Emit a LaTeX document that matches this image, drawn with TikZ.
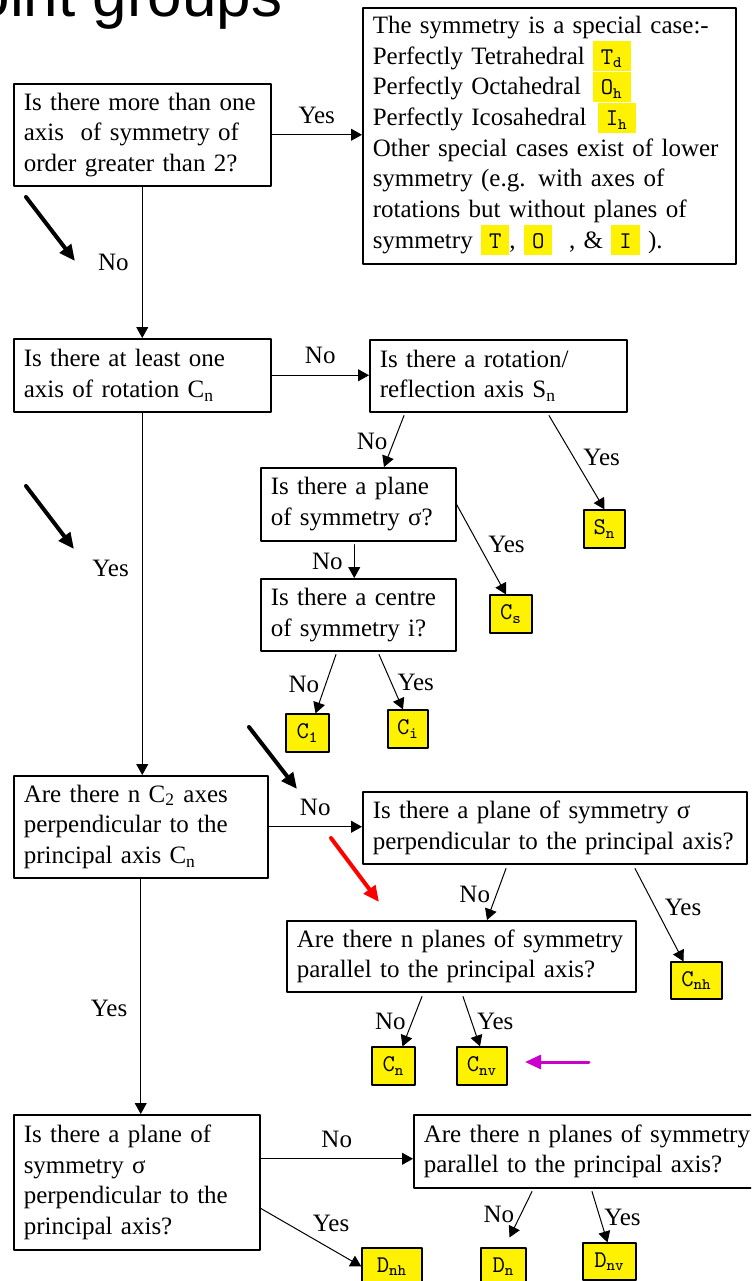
\documentclass[tikz,border=0pt]{standalone}
\usepackage{fontspec}
\setmainfont{Liberation Serif}
\setsansfont{Liberation Sans}
\usetikzlibrary{arrows.meta}

\begin{document}
\begin{tikzpicture}
% Point group flow chart, one unit is one pixel of the slide
\def\pxsz{0.5pt}
\providecommand{\pgTextFont}{\fontsize{12.5}{15.35}\selectfont}
\providecommand{\pgGroupFont}{\ttfamily\fontsize{12}{12}\selectfont}
\providecommand{\pgBoxLineWidth}{0.75pt}
\providecommand{\pgArrowLineWidth}{0.5pt}
\providecommand{\pgHintLineWidth}{2pt}
\providecommand{\pgHlx}{110pt}
\providecommand{\grpmark}[1]{{\setlength{\fboxsep}{0pt}\colorbox{yellow}{\rule[-3.5pt]{0pt}{15pt}\hspace{4pt}\pgGroupFont #1\hspace{4pt}}}}
\begin{scope}[x=\pxsz, y=-\pxsz, line cap=round, line join=round,
  qbox/.style={draw, line width=\pgBoxLineWidth, anchor=north west, align=left,
    inner xsep=5pt, inner ysep=0pt, font=\pgTextFont},
  grp/.style={draw, fill=yellow, line width=0.6pt, font=\pgGroupFont,
    minimum height=19pt, inner sep=0pt},
  conn/.style={line width=\pgArrowLineWidth, -{Triangle[length=5.5pt,width=6pt]}},
  hint/.style={line width=\pgHintLineWidth, -{Triangle[length=8pt,width=7pt]}},
  answer/.style={font=\pgTextFont, inner sep=1.5pt}]
  % Page frame
  \useasboundingbox (0,0) rectangle (751,1281);
  \clip (0,0) rectangle (751,1281);
  % Title, cut by the top edge
  \node[anchor=base west, inner sep=0pt, font=\sffamily\fontsize{31}{31}\selectfont] (title) at (-66,16) {Point groups};
  % Questions
  \node[qbox, text width=118.5pt, minimum height=51pt] (axes) at (13,83)
    {Is there more than one\\ axis\ \ of symmetry of\\ order greater than 2?};
  \node[qbox, text width=176.5pt, minimum height=128pt] (special) at (362,7)
    {The symmetry is a special case:-\\
     \makebox[\pgHlx][l]{Perfectly Tetrahedral}\grpmark{T\textsubscript{d}}\\
     \makebox[\pgHlx][l]{Perfectly Octahedral}\grpmark{O\textsubscript{h}}\\
     \makebox[\pgHlx][l]{Perfectly Icosahedral}\hspace{2.5pt}\grpmark{I\textsubscript{h}}\\
     Other special cases exist of lower\\
     symmetry (e.g. with axes of\\
     rotations but without planes of\\
     symmetry \grpmark{T}, \grpmark{O}\ \ , \& \grpmark{I}\ ).};
  \node[qbox, text width=118.5pt, minimum height=36.5pt] (rot) at (13,338)
    {Is there at least one\\ axis of rotation C\textsubscript{n}};
  \node[qbox, text width=118.5pt, minimum height=36pt] (refl) at (369,339)
    {Is there a rotation/\\ reflection axis S\textsubscript{n}};
  \node[qbox, text width=87.5pt, minimum height=36.5pt] (plane) at (260,467)
    {Is there a plane\\ of symmetry σ?};
  \node[qbox, text width=87.5pt, minimum height=36pt] (centre) at (260,578)
    {Is there a centre\\ of symmetry i?};
  \node[qbox, text width=117pt, minimum height=51pt] (perp) at (13,775)
    {Are there n C\textsubscript{2} axes\\ perpendicular to the\\ principal axis C\textsubscript{n}};
  \node[qbox, text width=182pt, minimum height=36pt] (hplane) at (362,791)
    {Is there a plane of symmetry σ\\ perpendicular to the principal axis?};
  \node[qbox, text width=164.5pt, minimum height=35.5pt] (planes) at (286,920)
    {Are there n planes of symmetry\\ parallel to the principal axis?};
  \node[qbox, text width=113pt, minimum height=67.5pt] (dplane) at (13,1114)
    {Is there a plane of\\ symmetry σ\\ perpendicular to the\\ principal axis?};
  \node[qbox, text width=163.5pt, minimum height=36.5pt] (dplanes) at (413,1114)
    {Are there n planes of symmetry\\ parallel to the principal axis?};
  % Point groups
  \node[grp, minimum width=20.5pt] (Sn) at (604.5,529) {S\textsubscript{n}};
  \node[grp, minimum width=21pt] (Cs) at (511,614) {C\textsubscript{s}};
  \node[grp, minimum width=21.5pt] (C1) at (307.5,733) {C\textsubscript{1}};
  \node[grp, minimum width=20pt] (Ci) at (408,729) {C\textsubscript{i}};
  \node[grp, minimum width=25.5pt, minimum height=18.5pt] (Cnh) at (696.5,980.5) {C\textsubscript{nh}};
  \node[grp, minimum width=21.5pt] (Cn) at (393.5,1066) {C\textsubscript{n}};
  \node[grp, minimum width=25pt] (Cnv) at (482,1066) {C\textsubscript{nv}};
  \node[grp, minimum width=30pt, minimum height=18.5pt] (Dnh) at (392,1266.5) {D\textsubscript{nh}};
  \node[grp, minimum width=22.5pt, minimum height=18.5pt] (Dn) at (503.5,1266.5) {D\textsubscript{n}};
  \node[grp, minimum width=26.5pt, minimum height=18.5pt] (Dnv) at (609.5,1261.5) {D\textsubscript{nv}};
  % Answers
  \draw[conn] (axes.east) -- (axes.east -| special.west) node[answer, midway, above=4pt] {Yes};
  \draw[conn] (axes.south) -- (rot.north) node[answer, midway, left=5pt] {No};
  \draw[conn] (rot.east) -- (rot.east -| refl.west) node[answer, midway, above=4pt] {No};
  \draw[conn] (rot.south) -- (rot.south |- perp.north) node[answer, pos=0.43, left=5pt] {Yes};
  \draw[conn] ([xshift=17.5pt, yshift=-1.5pt]refl.south west) -- ([xshift=62pt]plane.north west) node[answer, midway, left=1.5pt] {No};
  \draw[conn] ([xshift=90pt, yshift=-1.5pt]refl.south west) -- (Sn.north) node[answer, pos=0.45, right=3pt] {Yes};
  \draw[conn] ([xshift=-2pt, yshift=-1.5pt]plane.south) -- ([xshift=-2pt]centre.north) node[answer, midway, left=4pt] {No};
  \draw[conn] (plane.east) -- ([xshift=-2.5pt]Cs.north) node[answer, pos=0.45, right=3pt] {Yes};
  \draw[conn] ([xshift=38pt, yshift=-1.5pt]centre.south west) -- ([xshift=4pt]C1.north) node[answer, midway, left=1.5pt] {No};
  \draw[conn] ([xshift=59.5pt, yshift=-1.5pt]centre.south west) -- ([xshift=-2.5pt]Ci.north) node[answer, midway, right=1.5pt] {Yes};
  \draw[conn] (perp.east) -- (perp.east -| hplane.west) node[answer, midway, above=4pt] {No};
  \draw[conn] (perp.south) -- (perp.south |- dplane.north) node[answer, pos=0.55, left=5pt] {Yes};
  \draw[conn] ([xshift=72pt, yshift=-2pt]hplane.south west) -- ([xshift=100.5pt]planes.north west) node[answer, midway, left=1.5pt] {No};
  \draw[conn] ([xshift=136.5pt, yshift=-2pt]hplane.south west) -- ([xshift=-6.5pt]Cnh.north) node[answer, pos=0.42, right=3pt] {Yes};
  \draw[conn] ([xshift=68pt, yshift=-2pt]planes.south west) -- ([xshift=4.5pt]Cn.north) node[answer, midway, left=1.5pt] {No};
  \draw[conn] ([xshift=88.5pt, yshift=-2pt]planes.south west) -- ([xshift=-1pt]Cnv.north) node[answer, midway, right=1pt] {Yes};
  \draw[conn] ([yshift=11.75pt]dplane.east) -- ([yshift=11.75pt]dplane.east -| dplanes.west) node[answer, midway, above=4pt] {No};
  \draw[conn] ([yshift=-13pt]dplane.east) -- (Dnh.west) node[answer, pos=0.7, above=7pt] {Yes};
  \draw[conn] ([xshift=59.5pt, yshift=-1.5pt]dplanes.south west) -- ([xshift=3pt, yshift=5pt]Dn.north) node[answer, midway, left=1.5pt] {No};
  \draw[conn] ([xshift=89.5pt, yshift=-1.5pt]dplanes.south west) -- ([xshift=-1pt]Dnv.north) node[answer, midway, right=0.5pt] {Yes};
  % Pointers added on the slide
  \coordinate (hintA) at (26,197);
  \coordinate (hintAend) at (75,261);
  \coordinate (hintB) at (26,486);
  \coordinate (hintBend) at (74,549);
  \coordinate (hintC) at (249,727);
  \coordinate (hintCend) at (297,789);
  \coordinate (hintD) at (331,838);
  \coordinate (hintDend) at (379,902);
  \coordinate (hintE) at (589,1062);
  \coordinate (hintEend) at (525,1062);
  \draw[hint] (hintA) -- (hintAend);
  \draw[hint] (hintB) -- (hintBend);
  \draw[hint] (hintC) -- (hintCend);
  \draw[hint, red] (hintD) -- (hintDend);
  \draw[hint, line width=1.5pt, color={rgb,255:red,204;green,0;blue,204}] (hintE) -- (hintEend);
\end{scope}
\end{tikzpicture}
\end{document}
